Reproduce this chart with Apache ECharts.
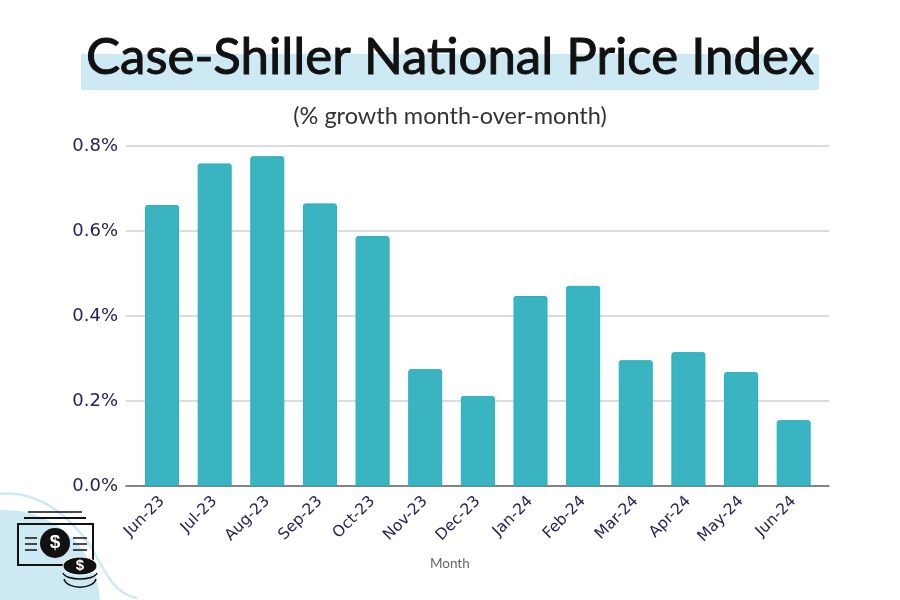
<!DOCTYPE html>
<html>
<head>
<meta charset="utf-8">
<script src="https://cdn.jsdelivr.net/npm/echarts@6/dist/echarts.min.js"></script>
<style>html,body{margin:0;padding:0;background:#fff}#c{width:900px;height:600px}</style>
</head>
<body>
<div id="c"></div>
<script>
const months = ['Jun-23','Jul-23','Aug-23','Sep-23','Oct-23','Nov-23','Dec-23','Jan-24','Feb-24','Mar-24','Apr-24','May-24','Jun-24'];
const growth = [0.661,0.759,0.776,0.665,0.588,0.275,0.212,0.447,0.471,0.296,0.315,0.268,0.155];
const yTicks = [0,0.2,0.4,0.6,0.8];

const ink = '#27235a';
const pale = '#cde9f4';
const chart = echarts.init(document.getElementById('c'));

const curve = (x1,y1,cpx1,cpy1,cpx2,cpy2,x2,y2,stroke,lineWidth,z) =>
  ({type:'bezierCurve', z, shape:{x1,y1,cpx1,cpy1,cpx2,cpy2,x2,y2}, style:{fill:null,stroke,lineWidth}});

const deco = [
  {type:'rect', z:0, shape:{x:81,y:54,width:738,height:36}, style:{fill:pale}},
  {type:'circle', z:0, shape:{cx:5,cy:605,r:95}, style:{fill:pale}},
  curve(0,494,40,490,70,518,90,545,pale,2.5,0),
  curve(90,545,105,572,115,595,137,598,pale,2.5,0),
  {type:'line', z:1, shape:{x1:28,y1:512,x2:82,y2:512}, style:{stroke:'#111',lineWidth:1.5}},
  {type:'line', z:1, shape:{x1:24,y1:518,x2:86,y2:518}, style:{stroke:'#111',lineWidth:2}},
  {type:'rect', z:1, shape:{x:18,y:524,width:75,height:41}, style:{fill:null,stroke:'#111',lineWidth:2}},
  {type:'circle', z:1, shape:{cx:55,cy:543,r:15}, style:{fill:'#111'}},
  {type:'text', z:2, style:{x:55,y:543,text:'$',fill:'#fff',font:'bold 19px "Liberation Sans"',align:'center',verticalAlign:'middle'}},
  ...[538,544,550].flatMap(y => [
    {type:'line', z:1, shape:{x1:25,y1:y,x2:37,y2:y}, style:{stroke:'#111',lineWidth:1.5}},
    {type:'line', z:1, shape:{x1:73,y1:y,x2:87,y2:y}, style:{stroke:'#111',lineWidth:1.5}}
  ]),
  {type:'ellipse', z:2, shape:{cx:80,cy:566,rx:17,ry:9}, style:{fill:'#111',stroke:'#fff',lineWidth:1}},
  {type:'text', z:3, style:{x:80,y:566,text:'$',fill:'#fff',font:'bold 15px "Liberation Sans"',align:'center',verticalAlign:'middle'}},
  curve(63,573,66,581,94,581,97,573,'#111',1.5,2),
  curve(64,579,67,590,93,590,96,579,'#111',1.5,2)
];

chart.setOption({
  animation:false,
  backgroundColor:'#fff',
  graphic:{elements:deco},
  title:[
    {text:'Case-Shiller National Price Index', left:'center', top:27,
     textStyle:{fontFamily:'Lato',fontWeight:400,fontSize:51,color:'#111',textBorderColor:'#111',textBorderWidth:1}},
    {text:'(% growth month-over-month)', left:'center', top:99,
     textStyle:{fontFamily:'Lato',fontWeight:400,fontSize:23.5,color:'#333'}}
  ],
  grid:[
    {left:126,right:71,top:146,bottom:114},
    {left:135.7,right:80,top:146,bottom:114}
  ],
  xAxis:[
    {type:'category',gridIndex:0,data:months,axisLabel:{show:false},axisTick:{show:false},
     axisLine:{show:true,lineStyle:{color:'#666',width:1.5}}},
    {type:'category',gridIndex:1,data:months,
     axisLine:{show:false},axisTick:{show:false},
     axisLabel:{rotate:45,interval:0,margin:13,fontFamily:'DejaVu Sans',fontSize:15.5,color:ink},
     name:'Month',nameLocation:'middle',nameGap:71,
     nameTextStyle:{fontFamily:'Lato',fontSize:13.5,color:'#666',padding:[0,56,0,0]}}
  ],
  yAxis:[
    {type:'value',gridIndex:0,min:0,max:0.8,interval:0.2,
     axisLine:{show:false},axisTick:{show:false},
     splitLine:{lineStyle:{color:'#ccd0d6',width:1.5}},
     axisLabel:{margin:8,fontFamily:'DejaVu Sans',fontSize:18,color:ink,padding:[4,0,0,0],
       formatter:v=>yTicks.includes(+v.toFixed(1))?v.toFixed(1)+'%':''}},
    {type:'value',gridIndex:1,min:0,max:0.8,interval:0.2,show:false,splitLine:{show:false}}
  ],
  series:[{
    type:'bar',xAxisIndex:1,yAxisIndex:1,data:growth,barWidth:34,z:3,
    itemStyle:{color:'#3bb4c1',borderColor:'#25b0be',borderWidth:1,borderRadius:[2,2,0,0]}
  }]
});
</script>
</body>
</html>
